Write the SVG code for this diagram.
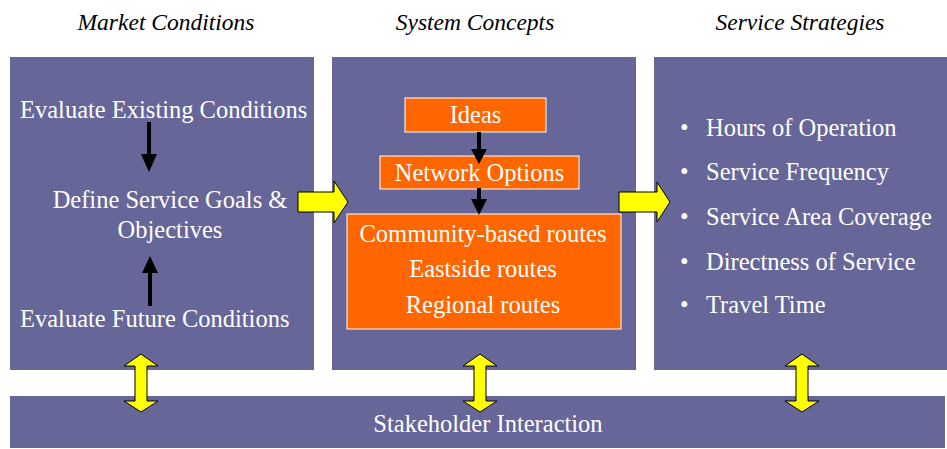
<svg xmlns="http://www.w3.org/2000/svg" width="947" height="449" viewBox="0 0 947 449">
  <style>
    .panel { fill: #666699; }
    .box { fill: #FF6600; stroke: #FFFFFF; stroke-width: 1; }
    .t { font-family: "Liberation Serif", "Times New Roman", serif; font-size: 24.5px; fill: #FFFFFF; }
    .c { text-anchor: middle; }
    .head { font-family: "Liberation Serif", "Times New Roman", serif; font-size: 23.5px; font-style: italic; fill: #000000; text-anchor: middle; }
    .yel { fill: #FFFF00; stroke: #000000; stroke-width: 1; stroke-linejoin: miter; }
    .blk { fill: #000000; }
  </style>

  <rect width="947" height="449" fill="#FFFFFF"/>

  <!-- column headings -->
  <g id="headings">
    <text class="head" x="166" y="30">Market Conditions</text>
    <text class="head" x="475" y="30">System Concepts</text>
    <text class="head" x="800" y="30">Service Strategies</text>
  </g>

  <!-- Market Conditions column -->
  <g id="market">
    <rect class="panel" x="10" y="57" width="304" height="313"/>
    <text class="t" x="20" y="118">Evaluate Existing Conditions</text>
    <text class="t c" x="170" y="208">Define Service Goals &amp;</text>
    <text class="t c" x="170" y="238">Objectives</text>
    <text class="t" x="20" y="327">Evaluate Future Conditions</text>
  </g>

  <!-- System Concepts column -->
  <g id="concepts">
    <rect class="panel" x="332" y="57" width="304" height="313"/>
  </g>
  <g id="ideas">
    <rect class="box" x="405" y="98" width="141" height="34"/>
    <text class="t c" x="475.5" y="123">Ideas</text>
  </g>
  <g id="network-options">
    <rect class="box" x="380" y="156" width="199" height="33"/>
    <text class="t c" x="479.5" y="181">Network Options</text>
  </g>
  <g id="routes">
    <rect class="box" x="347" y="214" width="274" height="115"/>
    <text class="t c" x="483" y="242">Community-based routes</text>
    <text class="t c" x="483" y="277">Eastside routes</text>
    <text class="t c" x="483" y="313">Regional routes</text>
  </g>

  <!-- Service Strategies column -->
  <g id="strategies">
    <rect class="panel" x="654" y="57" width="293" height="313"/>
    <g class="t">
      <text x="680" y="136">•</text><text x="706" y="136">Hours of Operation</text>
      <text x="680" y="180">•</text><text x="706" y="180">Service Frequency</text>
      <text x="680" y="225">•</text><text x="706" y="225">Service Area Coverage</text>
      <text x="680" y="270">•</text><text x="706" y="270">Directness of Service</text>
      <text x="680" y="313">•</text><text x="706" y="313">Travel Time</text>
    </g>
  </g>

  <!-- Stakeholder bar -->
  <g id="stakeholder">
    <rect class="panel" x="10" y="396" width="935" height="52"/>
    <text class="t c" x="488" y="432">Stakeholder Interaction</text>
  </g>

  <!-- connectors -->
  <g id="connectors">
    <!-- black flow arrows -->
    <rect class="blk" x="147" y="122" width="4" height="33"/>
    <polygon class="blk" points="141,154 157,154 149,172"/>
    <rect class="blk" x="148" y="272" width="4" height="34"/>
    <polygon class="blk" points="142,273 158,273 150,256"/>
    <rect class="blk" x="477" y="132" width="4" height="18"/>
    <polygon class="blk" points="471,149 487,149 479,164"/>
    <rect class="blk" x="477" y="188" width="4" height="12"/>
    <polygon class="blk" points="471,199 487,199 479,215"/>

    <!-- yellow column-to-column arrows -->
    <polygon class="yel" points="298,192 334,192 334,181 348,202 334,223 334,212 298,212"/>
    <polygon class="yel" points="619,192 657,192 657,182 670,202 657,222 657,212 619,212"/>

    <!-- yellow two-way arrows to stakeholder bar -->
    <polygon class="yel" points="141,354 158,366 147,366 147,401 158,401 141,412 124,401 135,401 135,366 124,366"/>
    <polygon class="yel" points="480,354 497,366 486,366 486,401 497,401 480,412 463,401 474,401 474,366 463,366"/>
    <polygon class="yel" points="802,354 819,366 808,366 808,401 819,401 802,412 785,401 796,401 796,366 785,366"/>
  </g>
</svg>
